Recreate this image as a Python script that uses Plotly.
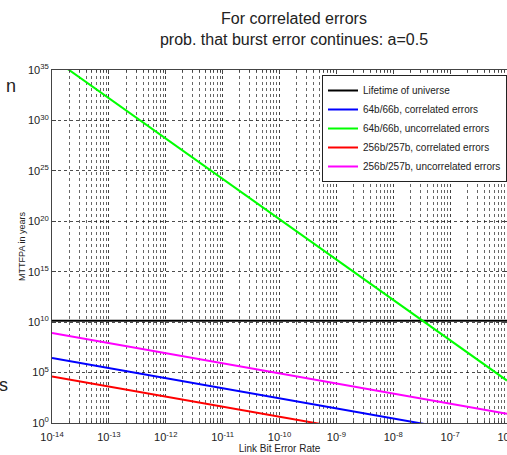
import plotly.graph_objects as go

# ---- data ----
ber = [1e-14, 1e-13, 1e-12, 1e-11, 1e-10, 1e-9, 1e-8, 1e-7, 1e-6]
lifetime_universe = [1.38e10] * 9
mttfpa_64_corr = [2.8e6, 2.8e5, 2.8e4, 2.8e3, 280, 28, 2.8, 0.28, 0.028]
mttfpa_64_uncorr = [1.6e36, 1.6e32, 1.6e28, 1.6e24, 1.6e20, 1.6e16, 1.6e12, 1.6e8, 1.6e4]
mttfpa_256_corr = [4.2e4, 4.2e3, 420, 42, 4.2, 0.42, 0.042, 0.0042, 0.00042]
mttfpa_256_uncorr = [8.3e8, 8.3e7, 8.3e6, 8.3e5, 8.3e4, 8.3e3, 830, 83, 8.3]

series_names = ["Lifetime of universe", "64b/66b, correlated errors", "64b/66b, uncorrelated errors",
                "256b/257b, correlated errors", "256b/257b, uncorrelated errors"]
series_vals = [lifetime_universe, mttfpa_64_corr, mttfpa_64_uncorr, mttfpa_256_corr, mttfpa_256_uncorr]
series_colors = ["#000000", "#0000ff", "#00ff00", "#ff0000", "#ff00ff"]

x_exps = list(range(-14, -5))
x_tickvals = [10.0 ** e for e in x_exps]
x_ticktext = ["10<sup>%d</sup>" % e for e in x_exps]
y_exps = list(range(0, 36, 5))
y_tickvals = [10.0 ** e for e in y_exps]
y_ticktext = ["10<sup>%d</sup>" % e for e in y_exps]
x_minor = [m * 10.0 ** e for e in range(-14, -6) for m in range(2, 10)]

FONT = "Liberation Sans, Arial, sans-serif"

fig = go.Figure()
for name, vals, col in zip(series_names, series_vals, series_colors):
    fig.add_trace(go.Scatter(x=ber, y=vals, mode="lines", name=name,
                             line=dict(color=col, width=2)))

W, H = 507, 455
L, R, T, B = 52, 0, 70, 32


def px_to_paper(px, py):
    return (px - L) / (W - L - R), (H - B - py) / (H - T - B)


lx, ly = px_to_paper(322, 75)
nx, ny = px_to_paper(11, 86)
sx, sy = px_to_paper(3, 385)

fig.update_layout(
    width=W, height=H,
    margin=dict(l=L, r=R, t=T, b=B, autoexpand=False),
    paper_bgcolor="white", plot_bgcolor="white",
    font=dict(family=FONT, size=9, color="#222"),
    title=dict(text="For correlated errors<br>prob. that burst error continues: a=0.5",
               x=294 / W, xanchor="center", xref="container",
               y=1 - 24 / H, yanchor="middle", yref="container",
               font=dict(family=FONT, size=16, color="#222")),
    showlegend=True,
    legend=dict(x=lx, y=ly, xanchor="left", yanchor="top",
                bgcolor="white", bordercolor="#222", borderwidth=1,
                font=dict(family=FONT, size=10, color="#222"),
                itemwidth=30, tracegroupgap=0),
    annotations=[
        dict(text="n", x=nx, y=ny, xref="paper", yref="paper", showarrow=False,
             xanchor="center", yanchor="middle", font=dict(family=FONT, size=18, color="#222")),
        dict(text="s", x=sx, y=sy, xref="paper", yref="paper", showarrow=False,
             xanchor="center", yanchor="middle", font=dict(family=FONT, size=18, color="#222")),
    ],
)

fig.update_xaxes(
    type="log", range=[-14, -6], automargin=False,
    tickmode="array", tickvals=x_tickvals, ticktext=x_ticktext,
    ticks="inside", ticklen=4, tickcolor="#444", ticklabelstandoff=4,
    ticklabeloverflow="allow",
    showline=True, linecolor="#444", linewidth=1, mirror="allticks",
    showgrid=True, gridcolor="rgba(0,0,0,0.75)", griddash="dot", gridwidth=1,
    minor=dict(tickvals=x_minor, ticks="inside", ticklen=2, tickcolor="#444",
               showgrid=True, gridcolor="rgba(0,0,0,0.6)", griddash="dot", gridwidth=1),
    zeroline=False,
    tickfont=dict(family=FONT, size=11, color="#222"),
    title=dict(text="Link Bit Error Rate", font=dict(family=FONT, size=10, color="#222"), standoff=2),
)
fig.update_yaxes(
    type="log", range=[0, 35], automargin=False,
    tickmode="array", tickvals=y_tickvals, ticktext=y_ticktext,
    ticks="inside", ticklen=4, tickcolor="#444",
    ticklabeloverflow="allow",
    showline=True, linecolor="#444", linewidth=1, mirror="allticks",
    showgrid=True, gridcolor="rgba(0,0,0,0.7)", griddash="dot", gridwidth=1,
    zeroline=False,
    tickfont=dict(family=FONT, size=11, color="#222"),
    title=dict(text="MTTFPA in years", font=dict(family=FONT, size=9, color="#222"), standoff=0),
)

fig.write_html("out.html", config={"displayModeBar": False},
               post_script="document.body.style.margin='0';document.body.style.overflow='hidden';")
